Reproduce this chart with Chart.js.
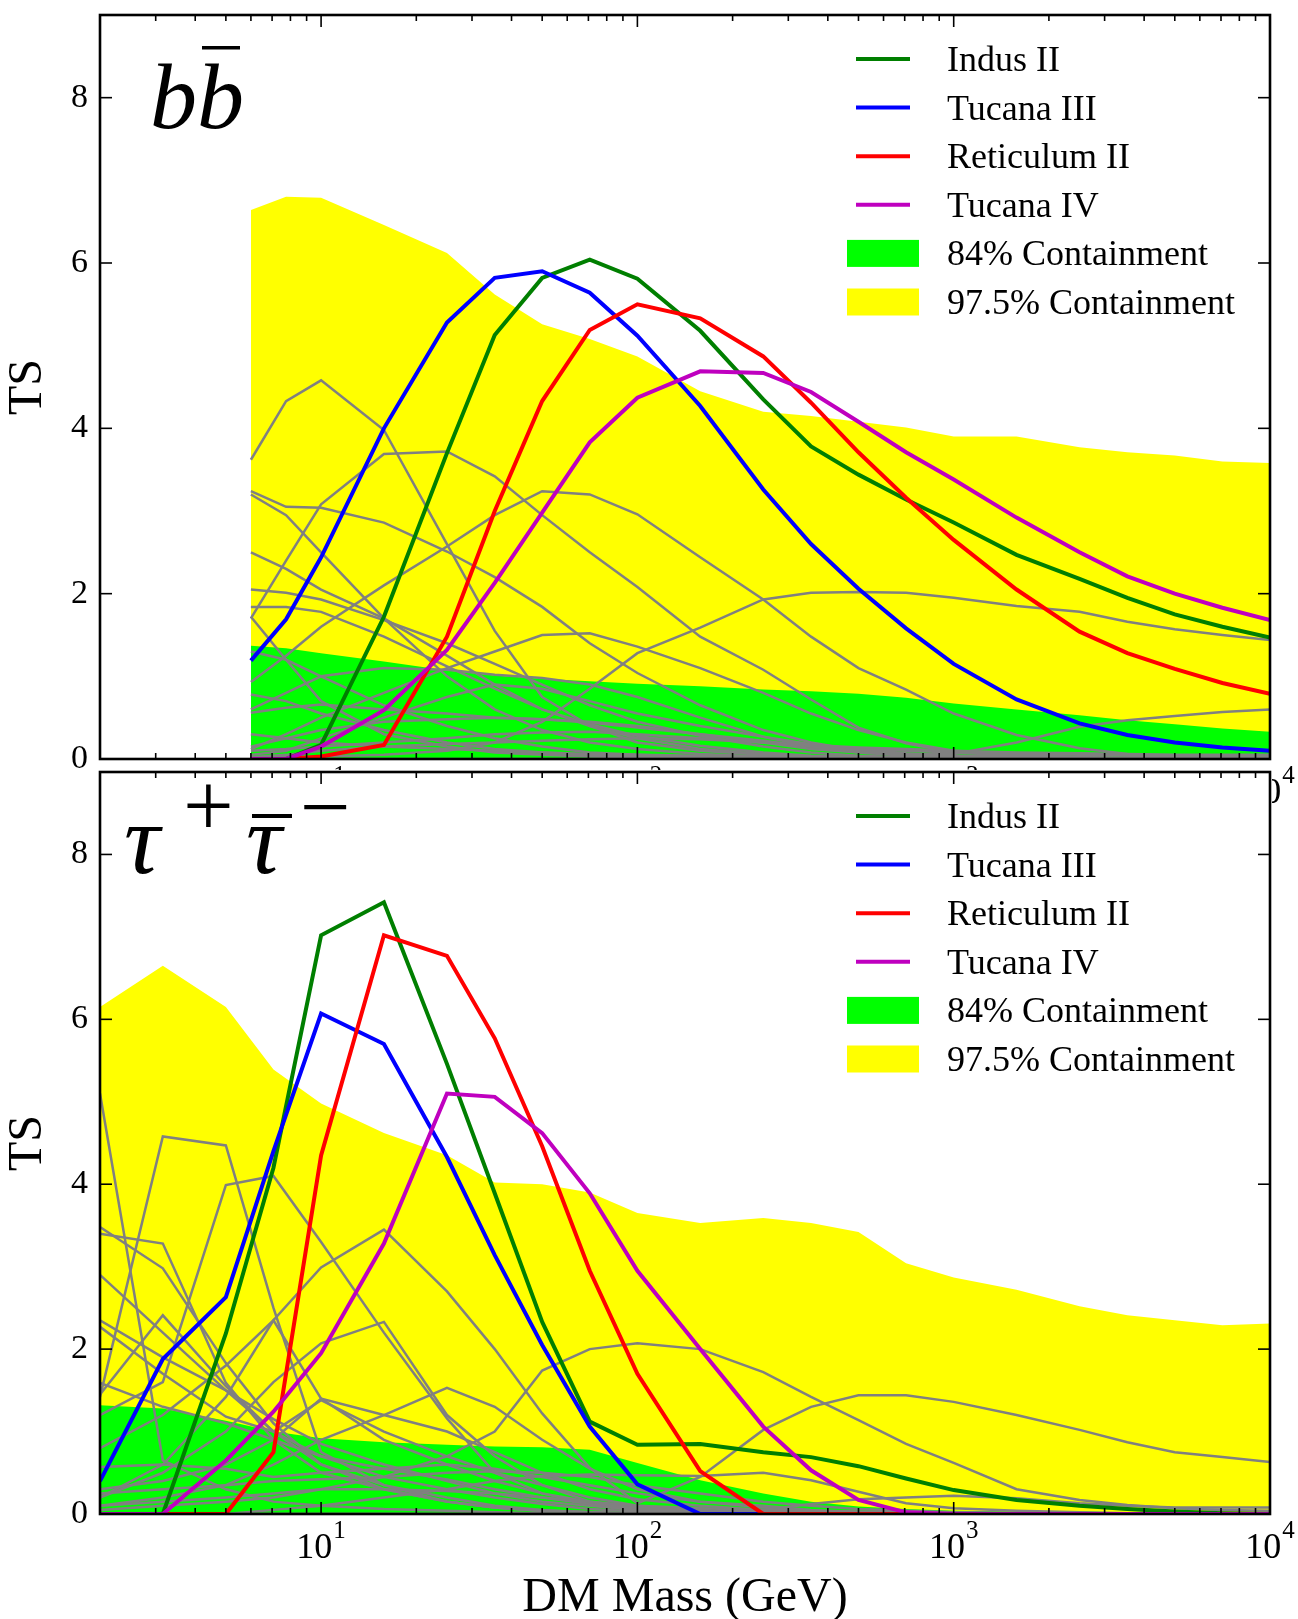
<!DOCTYPE html>
<html lang="en">
<head>
  <meta charset="UTF-8">
  <title>TS vs DM mass</title>
  <script src="https://cdn.jsdelivr.net/npm/chart.js"></script>
  <style>
    body { margin: 0; background: #fff; }
    #wrap { position: relative; width: 1298px; height: 1619px; overflow: hidden; }
    canvas { position: absolute; left: 0; }
    #bbChart { top: 0; }
    #tauChart { top: 757px; }
  </style>
</head>
<body>
<div id="wrap">
  <canvas id="bbChart" width="1298" height="810"></canvas>
  <canvas id="tauChart" width="1298" height="862"></canvas>
</div>
<script>
const FONT = '"Liberation Serif", "Times New Roman", serif';

// axis ticks
const yTicks = [0, 2, 4, 6, 8];
const xMajor = [10, 100, 1000, 10000];

// ---- b bbar panel ----
const massBB = [6, 7.75, 10, 15.8, 25, 35.4, 50, 70.7, 100, 158, 250, 354, 500, 707, 1000, 1580, 2500, 3540, 5000, 7070, 10000];
const bbIndusII  = [0, 0, 0.17, 1.72, 3.7, 5.13, 5.82, 6.04, 5.81, 5.18, 4.35, 3.78, 3.44, 3.14, 2.86, 2.47, 2.18, 1.95, 1.75, 1.6, 1.47];
const bbTucanaIII = [1.19, 1.69, 2.44, 4.0, 5.28, 5.82, 5.9, 5.64, 5.12, 4.27, 3.26, 2.6, 2.06, 1.58, 1.15, 0.72, 0.43, 0.29, 0.2, 0.14, 0.1];
const bbRetII    = [0, 0, 0.03, 0.17, 1.48, 3.0, 4.33, 5.19, 5.5, 5.33, 4.87, 4.31, 3.71, 3.16, 2.65, 2.05, 1.54, 1.28, 1.09, 0.92, 0.79];
const bbTucanaIV = [0, 0, 0.15, 0.59, 1.32, 2.13, 2.98, 3.83, 4.37, 4.69, 4.67, 4.44, 4.08, 3.71, 3.38, 2.92, 2.5, 2.21, 2.0, 1.83, 1.68];
const bb84  = [1.37, 1.34, 1.28, 1.18, 1.07, 1.01, 0.97, 0.94, 0.91, 0.88, 0.84, 0.82, 0.79, 0.74, 0.67, 0.6, 0.53, 0.47, 0.42, 0.37, 0.33];
const bb975 = [6.64, 6.8, 6.79, 6.46, 6.12, 5.62, 5.26, 5.08, 4.87, 4.45, 4.2, 4.15, 4.08, 4.01, 3.9, 3.9, 3.77, 3.71, 3.67, 3.6, 3.58];
// random sky positions (grey)
const bbGrey = [
  [3.62, 4.33, 4.58, 3.98, 2.6, 1.55, 0.75, 0.4, 0.2, 0.1, 0.05, 0.03, 0.02, 0.01, 0, 0, 0, 0, 0, 0, 0],
  [3.24, 3.05, 3.04, 2.86, 2.51, 2.2, 1.84, 1.4, 1.04, 0.65, 0.35, 0.2, 0.1, 0.05, 0.03, 0.02, 0.01, 0, 0, 0, 0],
  [3.2, 2.95, 2.5, 1.7, 1.0, 0.6, 0.35, 0.2, 0.12, 0.06, 0.03, 0.02, 0.01, 0, 0, 0, 0, 0, 0, 0, 0],
  [1.7, 2.4, 3.08, 3.69, 3.72, 3.42, 2.95, 2.5, 2.08, 1.48, 1.08, 0.72, 0.38, 0.19, 0.08, 0.04, 0.02, 0.01, 0, 0, 0],
  [0.93, 1.25, 1.6, 2.1, 2.57, 2.95, 3.24, 3.2, 2.96, 2.44, 1.93, 1.48, 1.1, 0.84, 0.55, 0.29, 0.13, 0.06, 0.03, 0.02, 0.01],
  [0.02, 0.02, 0.03, 0.05, 0.1, 0.2, 0.45, 0.85, 1.28, 1.59, 1.93, 2.01, 2.02, 2.01, 1.95, 1.85, 1.78, 1.66, 1.57, 1.5, 1.44],
  [0.12, 0.3, 0.5, 0.8, 1.1, 1.3, 1.5, 1.52, 1.36, 1.1, 0.8, 0.55, 0.35, 0.2, 0.1, 0.05, 0.02, 0.01, 0, 0, 0],
  [0.6, 0.8, 1.0, 1.1, 1.08, 1.02, 0.98, 0.9, 0.75, 0.5, 0.27, 0.15, 0.08, 0.05, 0.06, 0.2, 0.39, 0.47, 0.52, 0.57, 0.6],
  [2.05, 2.01, 1.93, 1.68, 1.4, 1.15, 0.9, 0.65, 0.45, 0.28, 0.15, 0.08, 0.04, 0.02, 0.01, 0, 0, 0, 0, 0, 0],
  [1.84, 1.84, 1.78, 1.48, 1.12, 0.85, 0.6, 0.42, 0.28, 0.16, 0.08, 0.04, 0.02, 0.01, 0, 0, 0, 0, 0, 0, 0],
  [1.72, 1.2, 0.7, 0.3, 0.15, 0.08, 0.05, 0.03, 0.02, 0.01, 0, 0, 0, 0, 0, 0, 0, 0, 0, 0, 0],
  [2.5, 2.3, 2.05, 1.7, 1.25, 0.9, 0.6, 0.4, 0.25, 0.12, 0.06, 0.03, 0.02, 0.01, 0, 0, 0, 0, 0, 0, 0],
  [0.78, 0.7, 0.55, 0.35, 0.2, 0.12, 0.08, 0.05, 0.03, 0.02, 0.01, 0, 0, 0, 0, 0, 0, 0, 0, 0, 0],
  [0.56, 0.62, 0.66, 0.6, 0.55, 0.5, 0.48, 0.45, 0.4, 0.3, 0.2, 0.12, 0.08, 0.04, 0.02, 0.01, 0, 0, 0, 0, 0],
  [0.15, 0.25, 0.35, 0.45, 0.48, 0.5, 0.48, 0.44, 0.38, 0.3, 0.22, 0.15, 0.1, 0.06, 0.04, 0.03, 0.02, 0.01, 0, 0, 0],
  [0.1, 0.12, 0.15, 0.2, 0.25, 0.3, 0.32, 0.33, 0.3, 0.25, 0.2, 0.15, 0.12, 0.1, 0.08, 0.06, 0.05, 0.04, 0.03, 0.03, 0.02],
  [1.3, 1.2, 1.0, 0.65, 0.4, 0.25, 0.15, 0.08, 0.05, 0.02, 0, 0, 0, 0, 0, 0, 0, 0, 0, 0, 0],
  [0.05, 0.1, 0.25, 0.5, 0.75, 0.9, 0.85, 0.7, 0.55, 0.4, 0.27, 0.18, 0.12, 0.07, 0.04, 0.02, 0.01, 0, 0, 0, 0],
  [0.3, 0.25, 0.2, 0.15, 0.12, 0.1, 0.08, 0.06, 0.05, 0.04, 0.03, 0.02, 0.01, 0, 0, 0, 0, 0, 0, 0, 0],
  [0.02, 0.05, 0.1, 0.15, 0.18, 0.2, 0.22, 0.24, 0.25, 0.24, 0.2, 0.17, 0.14, 0.12, 0.1, 0.08, 0.07, 0.06, 0.05, 0.05, 0.05],
  [0, 0, 0, 0, 0, 0, 0, 0, 0, 0, 0, 0, 0, 0, 0, 0, 0, 0, 0, 0, 0]
];

// ---- tau tau panel ----
const massTau = [2, 3.16, 5, 7.07, 10, 15.8, 25, 35.4, 50, 70.7, 100, 158, 250, 354, 500, 707, 1000, 1580, 2500, 3540, 5000, 7070, 10000];
const ttIndusII   = [0, 0, 2.19, 4.2, 7.02, 7.42, 5.46, 3.89, 2.33, 1.12, 0.84, 0.85, 0.75, 0.69, 0.58, 0.43, 0.29, 0.17, 0.1, 0.06, 0.03, 0.01, 0];
const ttTucanaIII = [0.4, 1.88, 2.63, 4.4, 6.07, 5.7, 4.33, 3.14, 2.05, 1.06, 0.36, 0, 0, 0, 0, 0, 0, 0, 0, 0, 0, 0, 0];
const ttRetII     = [0, 0, 0, 0.75, 4.35, 7.02, 6.77, 5.77, 4.46, 2.95, 1.7, 0.52, 0, 0, 0, 0, 0, 0, 0, 0, 0, 0, 0];
const ttTucanaIV  = [0, 0, 0.65, 1.24, 1.95, 3.28, 5.1, 5.06, 4.62, 3.89, 2.95, 2.0, 1.06, 0.53, 0.17, 0.02, 0, 0, 0, 0, 0, 0, 0];
const tt84  = [1.32, 1.28, 1.13, 1.0, 0.92, 0.87, 0.84, 0.82, 0.81, 0.78, 0.62, 0.41, 0.25, 0.15, 0.09, 0.06, 0.04, 0.03, 0.03, 0.02, 0.02, 0.02, 0.02];
const tt975 = [6.15, 6.65, 6.15, 5.39, 4.98, 4.62, 4.35, 4.02, 4.0, 3.9, 3.65, 3.53, 3.59, 3.53, 3.42, 3.04, 2.87, 2.72, 2.52, 2.41, 2.35, 2.29, 2.31];
const ttGrey = [
  [5.1, 0.65, 0.3, 0.15, 0.1, 0.06, 0.04, 0.02, 0.01, 0, 0, 0, 0, 0, 0, 0, 0, 0, 0, 0, 0, 0, 0],
  [1.42, 4.58, 4.47, 2.5, 0.75, 0.35, 0.15, 0.08, 0.04, 0.02, 0.01, 0, 0, 0, 0, 0, 0, 0, 0, 0, 0, 0, 0],
  [1.2, 1.6, 3.99, 4.1, 3.3, 2.2, 1.16, 0.5, 0.25, 0.12, 0.06, 0.03, 0.01, 0, 0, 0, 0, 0, 0, 0, 0, 0, 0],
  [0.2, 0.6, 1.42, 2.35, 2.99, 3.45, 2.7, 2.0, 1.22, 0.56, 0.13, 0.45, 1.02, 1.3, 1.44, 1.44, 1.36, 1.2, 1.02, 0.87, 0.75, 0.69, 0.63],
  [0.2, 0.5, 1.0, 1.6, 2.07, 2.33, 1.2, 0.7, 0.35, 0.15, 0.08, 0.04, 0.02, 0.01, 0, 0, 0, 0, 0, 0, 0, 0, 0],
  [1.45, 2.41, 1.55, 1.0, 0.7, 0.45, 0.3, 0.2, 0.12, 0.06, 0.03, 0.01, 0, 0, 0, 0, 0, 0, 0, 0, 0, 0, 0],
  [0.8, 1.2, 1.8, 2.35, 1.4, 0.9, 0.6, 0.4, 0.25, 0.15, 0.08, 0.04, 0.02, 0.01, 0, 0, 0, 0, 0, 0, 0, 0, 0],
  [3.48, 2.98, 1.83, 1.1, 0.6, 0.3, 0.15, 0.08, 0.04, 0.02, 0, 0, 0, 0, 0, 0, 0, 0, 0, 0, 0, 0, 0],
  [3.4, 3.28, 1.59, 0.9, 0.5, 0.3, 0.15, 0.08, 0.04, 0.02, 0.01, 0, 0, 0, 0, 0, 0, 0, 0, 0, 0, 0, 0],
  [2.35, 1.9, 1.5, 1.15, 0.85, 0.6, 0.4, 0.25, 0.15, 0.1, 0.05, 0.02, 0.01, 0, 0, 0, 0, 0, 0, 0, 0, 0, 0],
  [0.05, 0.1, 0.15, 0.2, 0.3, 0.45, 0.7, 1.0, 1.74, 2.0, 2.07, 2.0, 1.72, 1.42, 1.14, 0.85, 0.62, 0.3, 0.17, 0.11, 0.07, 0.05, 0.04],
  [0, 0, 0, 0.05, 0.1, 0.2, 0.3, 0.4, 0.46, 0.48, 0.47, 0.46, 0.5, 0.41, 0.27, 0.13, 0.07, 0.04, 0.02, 0.01, 0, 0, 0],
  [0, 0, 0, 0, 0, 0, 0, 0, 0, 0, 0, 0.02, 0.05, 0.12, 0.18, 0.2, 0.22, 0.19, 0.13, 0.1, 0.08, 0.08, 0.08],
  [1.59, 1.3, 1.1, 0.9, 0.7, 0.55, 0.42, 0.3, 0.2, 0.12, 0.07, 0.04, 0.02, 0, 0, 0, 0, 0, 0, 0, 0, 0, 0],
  [2.27, 1.7, 1.18, 1.0, 1.38, 1.0, 0.7, 0.5, 0.35, 0.2, 0.1, 0.05, 0.02, 0, 0, 0, 0, 0, 0, 0, 0, 0, 0],
  [0.57, 0.6, 0.55, 0.45, 0.5, 0.55, 0.6, 0.55, 0.45, 0.35, 0.25, 0.15, 0.1, 0.05, 0.02, 0, 0, 0, 0, 0, 0, 0, 0],
  [0.25, 0.3, 0.35, 0.4, 0.42, 0.45, 0.5, 0.52, 0.5, 0.45, 0.35, 0.25, 0.15, 0.1, 0.06, 0.04, 0.02, 0.01, 0, 0, 0, 0, 0],
  [0.1, 0.15, 0.2, 0.25, 0.3, 0.3, 0.28, 0.25, 0.2, 0.15, 0.1, 0.07, 0.05, 0.04, 0.03, 0.02, 0.02, 0.01, 0, 0, 0, 0, 0],
  [2.9, 2.2, 1.5, 1.0, 0.6, 0.35, 0.2, 0.1, 0.05, 0.02, 0, 0, 0, 0, 0, 0, 0, 0, 0, 0, 0, 0, 0],
  [0.3, 0.4, 0.6, 0.9, 1.4, 1.2, 1.0, 0.75, 0.5, 0.3, 0.18, 0.1, 0.05, 0.02, 0, 0, 0, 0, 0, 0, 0, 0, 0],
  [0.1, 0.2, 0.35, 0.6, 0.9, 1.2, 1.53, 1.3, 0.9, 0.55, 0.3, 0.15, 0.08, 0.04, 0.02, 0, 0, 0, 0, 0, 0, 0, 0],
  [0, 0, 0, 0, 0, 0, 0, 0, 0, 0, 0, 0, 0, 0, 0, 0, 0, 0, 0, 0, 0, 0, 0]
];

const dwarfNames  = ['Indus II', 'Tucana III', 'Reticulum II', 'Tucana IV'];
const dwarfColors = ['#007f00', '#0000ff', '#ff0000', '#bf00bf'];

function pts(mass, vals) {
  return mass.map((m, i) => ({ x: m, y: vals[i] }));
}

function buildDatasets(mass, dwarfs, greys, band84, band975) {
  const ds = [];
  dwarfs.forEach((vals, i) => ds.push({
    label: dwarfNames[i], data: pts(mass, vals), borderColor: dwarfColors[i],
    borderWidth: 4, pointRadius: 0, fill: false, order: 3 - i, clip: 0, legendKind: 'line'
  }));
  greys.forEach(vals => ds.push({
    label: '', data: pts(mass, vals), borderColor: '#808080',
    borderWidth: 2.5, pointRadius: 0, fill: false, order: 10, clip: 0
  }));
  ds.push({ label: '84% Containment', data: pts(mass, band84), borderColor: 'rgba(0,0,0,0)',
    backgroundColor: '#00ff00', borderWidth: 0, pointRadius: 0, fill: 'origin', order: 20, legendKind: 'patch' });
  ds.push({ label: '97.5% Containment', data: pts(mass, band975), borderColor: 'rgba(0,0,0,0)',
    backgroundColor: '#ffff00', borderWidth: 0, pointRadius: 0, fill: 'origin', order: 21, legendKind: 'patch' });
  return ds;
}

// frame, inward ticks, x labels, panel label and legend (matplotlib look)
const framePlugin = {
  id: 'frame',
  beforeDraw(chart, args, o) {
    if (!o.whiteBg) return;
    const a = chart.chartArea, c = chart.ctx;
    c.save();
    c.fillStyle = '#fff';
    c.fillRect(a.left - 2, a.top - 2, a.right - a.left + 4, a.bottom - a.top + 4);
    c.restore();
  },
  afterDatasetsDraw(chart, args, o) {
    const c = chart.ctx, a = chart.chartArea, xs = chart.scales.x, ys = chart.scales.y;
    const seg = (x1, y1, x2, y2) => { c.beginPath(); c.moveTo(x1, y1); c.lineTo(x2, y2); c.stroke(); };
    c.save();
    c.strokeStyle = '#000';
    c.lineWidth = 1.6;
    yTicks.forEach(v => {
      const py = ys.getPixelForValue(v);
      seg(a.left, py, a.left + 12, py);
      seg(a.right, py, a.right - 12, py);
    });
    for (let e = 0; e <= 4; e++) {
      for (let k = 1; k <= 9; k++) {
        const v = k * Math.pow(10, e);
        if (v < xs.min || v > xs.max) continue;
        const px = xs.getPixelForValue(v);
        const len = k === 1 ? 12 : 6;
        seg(px, a.bottom, px, a.bottom - len);
        seg(px, a.top, px, a.top + len);
      }
    }
    c.lineWidth = 2.6;
    c.strokeRect(a.left, a.top, a.right - a.left, a.bottom - a.top);

    // x tick labels 10^n
    c.fillStyle = '#000';
    c.textBaseline = 'alphabetic';
    c.textAlign = 'left';
    xMajor.forEach(v => {
      const px = xs.getPixelForValue(v);
      const exp = String(Math.round(Math.log10(v)));
      c.font = '36px ' + FONT;
      const wb = c.measureText('10').width;
      c.font = '25px ' + FONT;
      const we = c.measureText(exp).width;
      const x0 = px - (wb + we + 1) / 2;
      c.font = '36px ' + FONT;
      c.fillText('10', x0, a.bottom + 44);
      c.font = '25px ' + FONT;
      c.fillText(exp, x0 + wb + 1, a.bottom + 24);
    });

    if (o.xTitle) {
      c.font = '48px ' + FONT;
      c.textAlign = 'center';
      c.fillText(o.xTitle, (a.left + a.right) / 2, a.bottom + 97);
      c.textAlign = 'left';
    }

    // panel label
    if (o.panel === 'bb') {
      c.font = 'italic 94px ' + FONT;
      const wb = c.measureText('b').width;
      c.fillText('b', a.left + 50, a.top + 113);
      c.fillText('b', a.left + 50 + wb, a.top + 113);
      c.fillRect(a.left + 50 + wb + 5, a.top + 31, wb - 9, 3.5);
    } else if (o.panel === 'tau') {
      c.font = 'italic 100px ' + FONT;
      c.fillText('\u03c4', a.left + 24, a.top + 101);
      c.fillText('\u03c4', a.left + 146, a.top + 101);
      c.fillRect(a.left + 152, a.top + 42, 40, 4);
      c.font = '90px ' + FONT;
      c.fillText('+', a.left + 83, a.top + 64);
      c.fillText('\u2212', a.left + 200, a.top + 65);
    }

    // legend
    let row = 0;
    chart.data.datasets.forEach(d => {
      if (!d.legendKind) return;
      const ry = a.top + 44 + row * 48.6;
      if (d.legendKind === 'line') {
        c.strokeStyle = d.borderColor;
        c.lineWidth = 4;
        seg(756 + a.left, ry, 810 + a.left, ry);
      } else {
        c.fillStyle = d.backgroundColor;
        c.fillRect(747 + a.left, ry - 13.5, 72, 27);
      }
      c.fillStyle = '#000';
      c.font = '36px ' + FONT;
      c.fillText(d.label, 847 + a.left, ry + 12);
      row++;
    });
    c.restore();
  }
};

function makeChart(id, mass, dwarfs, greys, band84, band975, frameOpts, bottomPad) {
  return new Chart(document.getElementById(id), {
    type: 'line',
    data: { datasets: buildDatasets(mass, dwarfs, greys, band84, band975) },
    plugins: [framePlugin],
    options: {
      responsive: false,
      animation: false,
      events: [],
      layout: { padding: { left: 0, right: 28, top: 15, bottom: bottomPad } },
      plugins: { legend: { display: false }, tooltip: { enabled: false }, frame: frameOpts },
      scales: {
        x: { type: 'logarithmic', min: 2, max: 10000, display: false },
        y: {
          type: 'linear', min: 0, max: 9,
          afterBuildTicks: s => { s.ticks = yTicks.map(v => ({ value: v })); },
          afterFit: s => { s.width = 100; s.paddingTop = 0; s.paddingBottom = 0; },
          ticks: { font: { family: FONT, size: 34 }, color: '#000', padding: 12 },
          grid: { display: false, drawTicks: false },
          border: { display: false },
          title: { display: true, text: 'TS', font: { family: FONT, size: 48 }, color: '#000', padding: 0 }
        }
      }
    }
  });
}

makeChart('bbChart', massBB, [bbIndusII, bbTucanaIII, bbRetII, bbTucanaIV], bbGrey, bb84, bb975,
  { panel: 'bb' }, 51);
makeChart('tauChart', massTau, [ttIndusII, ttTucanaIII, ttRetII, ttTucanaIV], ttGrey, tt84, tt975,
  { panel: 'tau', whiteBg: true, xTitle: 'DM Mass (GeV)' }, 105);
</script>
</body>
</html>
